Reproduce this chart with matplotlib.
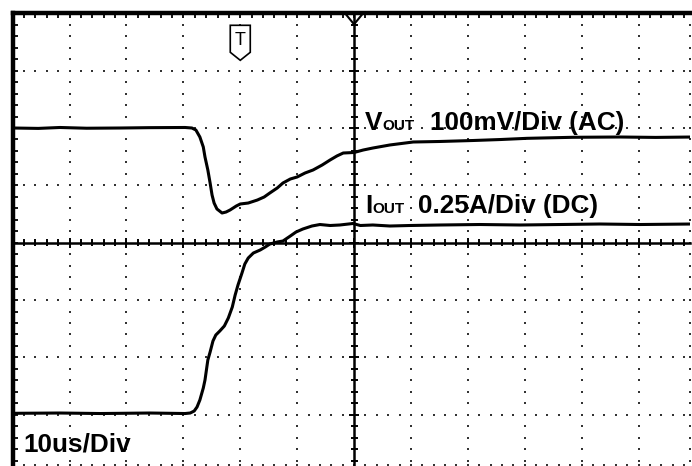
import numpy as np
import matplotlib.pyplot as plt

plt.rcParams['font.family'] = ['Liberation Sans', 'DejaVu Sans']

# scope settings
T_DIV = 10.0    # us / div
V_DIV = 100.0   # mV / div
I_DIV = 0.25    # A / div
TRIG_T = -20.0  # trigger position, us from screen centre

# VOUT trace, AC coupled (time in us, level in mV from screen centre)
vout_t = [-60, -55.5, -51.7, -47, -41.1, -36, -29.7, -28.5, -27.8, -27.1, -26.5,
          -26.2, -25.7, -25.3, -24.96, -24.6, -24.1, -23.2, -22.5, -21.8, -20.7,
          -20.0, -18.6, -17.0, -15.8, -14.8, -13.5, -12.5, -11.2, -10.0, -8.6,
          -7.2, -5.6, -4.2, -3.0, -1.9, 0, 1.6, 3.3, 6.3, 10.4, 15.1, 20.9, 25.7,
          30.4, 38.5, 46.7, 53, 59.5]
vout_mv = [200.0, 199.3, 200.9, 199.6, 200.0, 200.6, 200.9, 200.0, 196.5, 184.3,
           166.9, 149.4, 126.8, 104.1, 83.2, 69.2, 58.8, 51.8, 53.5, 57.0, 64.0,
           67.5, 69.2, 74.4, 79.7, 86.7, 95.4, 104.1, 111.1, 114.6, 121.6, 126.8,
           135.5, 144.3, 151.3, 156.4, 157.3, 161.6, 165.1, 170.4, 175.6, 176.5,
           178.2, 179.9, 182.0, 183.8, 184.3, 183.6, 184.3]

# IOUT trace, DC coupled (time in us, current in A from screen centre)
iout_t = [-60, -51.7, -44.6, -35.9, -29.7, -28.8, -28.1, -27.6, -27.1, -26.5,
          -26.2, -25.7, -25.3, -24.8, -24.3, -23.6, -22.8, -22.1, -21.4, -20.9,
          -20.4, -19.7, -19.2, -18.6, -17.7, -16.5, -15.6, -14.8, -13.5, -12.5,
          -11.2, -10.2, -9.0, -7.4, -6.0, -4.2, -2.5, -0.2, 1.1, 3.3, 6.3, 9.8,
          15.1, 22.1, 29.2, 36.2, 43.2, 50.3, 59.4]
iout_a = [-0.7437, -0.7424, -0.7446, -0.7424, -0.7446, -0.7424, -0.7337, -0.7162,
          -0.6857, -0.6334, -0.5985, -0.5114, -0.4765, -0.4285, -0.4024, -0.3850,
          -0.3631, -0.3282, -0.2803, -0.2280, -0.1844, -0.1321, -0.0929, -0.0667,
          -0.0449, -0.0318, -0.0187, -0.0057, 0.0031, 0.0074, 0.0292, 0.0466,
          0.0597, 0.0728, 0.0793, 0.0750, 0.0772, 0.0837, 0.0750, 0.0772, 0.0728,
          0.0750, 0.0772, 0.0793, 0.0772, 0.0793, 0.0815, 0.0793, 0.0815]

W, H = 692, 466
X_LEFT, X_RIGHT = -6.0, 5.905
Y_BOT, Y_TOP = -3.876, 4.0

fig = plt.figure(figsize=(W / 100, H / 100), dpi=100)
ax = fig.add_axes([12.7 / W, 1 - 465 / H, (690 - 12.7) / W, (465 - 13.3) / H])
ax.set_xlim(X_LEFT, X_RIGHT)
ax.set_ylim(Y_BOT, Y_TOP)
ax.axis('off')

px_x = (690 - 12.7) / (X_RIGHT - X_LEFT)   # pixels per div
px_y = (465 - 13.3) / (Y_TOP - Y_BOT)


def segs(ax, pairs, lw, color='black'):
    xs, ys = [], []
    for (x0, y0), (x1, y1) in pairs:
        xs += [x0, x1, np.nan]
        ys += [y0, y1, np.nan]
    ax.plot(xs, ys, color=color, lw=lw, solid_capstyle='butt', clip_on=False)


# dotted graticule
minor_x = np.round(np.arange(-6, 6.01, 0.2), 3)
minor_x = minor_x[(minor_x >= X_LEFT) & (minor_x <= X_RIGHT + 0.01)]
minor_y = np.round(np.arange(-4, 4.01, 0.2), 3)
minor_y = minor_y[(minor_y >= Y_BOT) & (minor_y <= Y_TOP)]
dx, dy = [], []
for gx in [-5, -4, -3, -2, -1, 1, 2, 3, 4, 5, X_RIGHT]:
    dx += [gx] * len(minor_y)
    dy += list(minor_y)
for gy in [-3, -2, -1, 1, 2, 3, Y_BOT]:
    dx += list(minor_x)
    dy += [gy] * len(minor_x)
ax.scatter(dx, dy, s=2.6, marker='s', color='#333333', linewidths=0, clip_on=False)

# centre axes with cross ticks
ax.plot([X_LEFT, X_RIGHT], [0, 0], color='black', lw=1.8, clip_on=False)
ax.plot([0, 0], [Y_BOT, Y_TOP], color='black', lw=1.8, clip_on=False)
ticks = []
for x in minor_x:
    h = (5 if abs(x - round(x)) < 1e-6 else 3.5) / px_y
    ticks.append(((x, -h), (x, h)))
for y in minor_y:
    h = (5 if abs(y - round(y)) < 1e-6 else 3.5) / px_x
    ticks.append(((-h, y), (h, y)))
segs(ax, ticks, 1.4)

# frame: thick top and left, ticks inward
ax.plot([X_LEFT, X_RIGHT + 0.05], [Y_TOP, Y_TOP], color='black', lw=3.2, clip_on=False)
ax.plot([X_LEFT, X_LEFT], [Y_BOT - 0.05, Y_TOP], color='black', lw=3.2, clip_on=False)
edge = [((x, Y_TOP), (x, Y_TOP - 5 / px_y)) for x in minor_x]
edge += [((X_LEFT, y), (X_LEFT + 5 / px_x, y)) for y in minor_y]
segs(ax, edge, 1.3)

# traces
ax.plot(np.array(vout_t) / T_DIV, np.array(vout_mv) / V_DIV, color='black', lw=2.2,
        solid_joinstyle='round')
ax.plot(np.array(iout_t) / T_DIV, np.array(iout_a) / I_DIV, color='black', lw=2.2,
        solid_joinstyle='round')

# centre marker under top frame
ax.fill([-9 / px_x, 9 / px_x, 0], [Y_TOP, Y_TOP, Y_TOP - 11 / px_y],
        facecolor='white', edgecolor='black', lw=1.5, clip_on=False)

# trigger marker
tx = TRIG_T / T_DIV
hw = 10 / px_x
ax.fill([tx - hw, tx + hw, tx + hw, tx, tx - hw],
        [Y_TOP - 12 / px_y, Y_TOP - 12 / px_y, Y_TOP - 39 / px_y,
         Y_TOP - 47 / px_y, Y_TOP - 39 / px_y],
        facecolor='white', edgecolor='black', lw=1.2)
ax.text(tx, Y_TOP - 27 / px_y, 'T', ha='center', va='center', fontsize=13)


def ftext(x, y, s, size, **kw):
    fig.text(x / W, 1 - y / H, s, fontsize=size, ha='left', va='baseline',
             fontweight='bold', **kw)


ftext(365, 130, 'V', 18.8)
ftext(382, 130, 'OUT', 11)
ftext(430, 130, '100mV/Div (AC)', 18.8)
ftext(365, 213, 'I', 18.8)
ftext(372, 213, 'OUT', 11)
ftext(418, 213, '0.25A/Div (DC)', 18.8)
ftext(23, 452, '10us/Div', 18.8)

fig.savefig('out.png', dpi=100)
